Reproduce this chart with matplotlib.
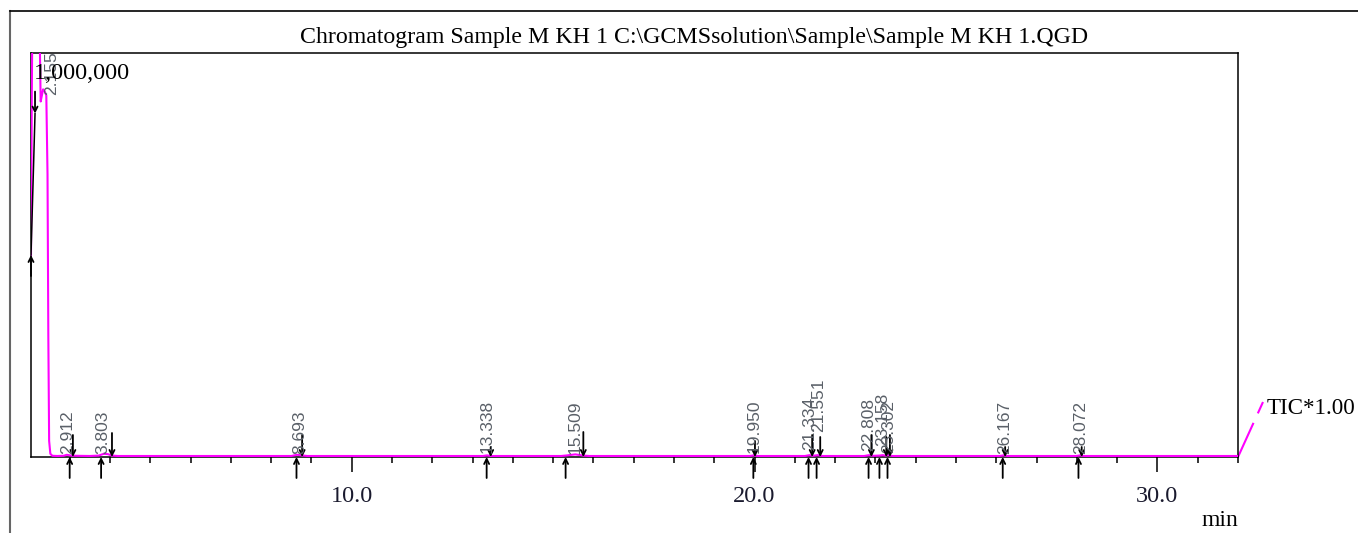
import matplotlib
matplotlib.use("Agg")
import matplotlib.pyplot as plt
from matplotlib.lines import Line2D
from matplotlib.ticker import FixedLocator, MultipleLocator, NullLocator

# TIC trace: retention time (min) and intensity
tic_time = [2.04, 2.06, 2.09, 2.14, 2.19, 2.24, 2.28, 2.31, 2.34, 2.38, 2.42, 2.45, 2.47,
            2.49, 2.52, 2.57, 2.70, 2.85, 2.93, 3.03, 3.15, 3.50, 3.72, 3.85, 3.95, 4.05,
            4.20, 5.50, 7.00, 8.50, 8.65, 8.75, 8.90, 11.0, 13.25, 13.36, 13.45, 15.20,
            15.35, 15.55, 15.75, 15.90, 18.0, 19.88, 19.98, 20.08, 21.25, 21.36, 21.45,
            21.57, 21.68, 22.72, 22.84, 22.95, 23.10, 23.18, 23.25, 23.32, 23.42, 25.0,
            26.08, 26.18, 26.28, 27.98, 28.08, 28.18, 30.0, 32.0]
tic_intensity = [500000, 900000, 1300000, 1500000, 1450000, 1150000, 880000, 895000, 910000,
                 905000, 895000, 700000, 300000, 40000, 8000, 3000, 2500, 3000, 5500, 3500,
                 3000, 2500, 3500, 8000, 7000, 3500, 2500, 2500, 2500, 2500, 5500, 4000, 2500,
                 2500, 2500, 4000, 2500, 2500, 4000, 6500, 3500, 2500, 2500, 2500, 4000, 2500,
                 2500, 4500, 3000, 4500, 2500, 2500, 4500, 3000, 3500, 4500, 3500, 5000, 2500,
                 2500, 2500, 4000, 2500, 2500, 4000, 2500, 2500, 2500]

# detected peaks
peak_labels = ["2.912", "3.803", "8.693", "13.338", "15.509", "19.950", "21.334", "21.551",
               "22.808", "23.158", "23.302", "26.167", "28.072"]
peak_rt = [2.912, 3.803, 8.693, 13.338, 15.509, 19.950, 21.334, 21.551, 22.808, 23.158,
           23.302, 26.167, 28.072]
peak_start = [3.00, 3.78, 8.63, 13.35, 15.31, 19.97, 21.34, 21.54, 22.83, 23.10, 23.30,
              26.16, 28.04]
peak_end = [3.08, 4.05, 8.77, 13.45, 15.75, 20.01, 21.43, 21.63, 22.90, 23.27, 23.36,
            26.22, 28.12]

# first (solvent) peak
first_label = "2.155"
first_start = (2.04, 500000)
first_end = (2.14, 850000)

# style-only lists
label_lift_px = [3, 3, 3, 4, 3, 4, 7, 25, 6, 11, 4, 3, 3]
end_arrow_px = [22, 24, 22, 10, 25, 16, 22, 20, 22, 20, 22, 10, 10]

W, H = 1358, 533
fig = plt.figure(figsize=(W / 100, H / 100), dpi=100)
ax = fig.add_axes([31 / W, (H - 457) / H, (1238 - 31) / W, (457 - 53) / H])

serif = "Liberation Serif"
sans = "Liberation Sans"
magenta = "#ff00ff"
label_grey = "#5a6068"

ax.plot(tic_time, tic_intensity, color=magenta, lw=1.5, zorder=3)
ax.set_xlim(2.04, 32.0)
ax.set_ylim(0, 1000000)

for s in ax.spines.values():
    s.set_linewidth(1.1)
    s.set_color("black")

ax.yaxis.set_major_locator(NullLocator())
ax.xaxis.set_major_locator(FixedLocator([10, 20, 30]))
ax.xaxis.set_minor_locator(MultipleLocator(1))
ax.set_xticklabels(["10.0", "20.0", "30.0"], fontfamily=serif, fontsize=17.5)
ax.tick_params(axis="x", which="major", direction="out", length=10.8, width=1.1, pad=10,
               labelcolor="#1a1a2e")
ax.tick_params(axis="x", which="minor", direction="out", length=4.3, width=1.1)

arrow_kw = dict(arrowstyle="->", color="black", lw=1.3, mutation_scale=9,
                shrinkA=0, shrinkB=0)

# peak start (below baseline, pointing up) and end (above, pointing down)
for i, lab in enumerate(peak_labels):
    ax.annotate("", xy=(peak_start[i], 0), xytext=(0, -21), textcoords="offset pixels",
                arrowprops=arrow_kw, annotation_clip=False, zorder=4)
    ax.annotate("", xy=(peak_end[i], 0), xytext=(0, end_arrow_px[i]),
                textcoords="offset pixels", arrowprops=arrow_kw, annotation_clip=False,
                zorder=4)
    ax.annotate(lab, xy=(peak_rt[i] + 0.03, 0), xytext=(0, label_lift_px[i]),
                textcoords="offset pixels", rotation=90, ha="center", va="bottom",
                fontfamily=sans, fontsize=12.5, color=label_grey, zorder=5)

# solvent peak markers
ax.plot([first_start[0], first_end[0]], [first_start[1], first_end[1]], color="black",
        lw=1.1, zorder=4)
ax.annotate("", xy=first_start, xytext=(0, -21), textcoords="offset pixels",
            arrowprops=arrow_kw, zorder=4)
ax.annotate("", xy=first_end, xytext=(0, 22), textcoords="offset pixels",
            arrowprops=arrow_kw, zorder=4)
ax.annotate(first_label, xy=(2.55, 895000), rotation=90, ha="center", va="bottom",
            fontfamily=sans, fontsize=12.5, color=label_grey, zorder=5,
            annotation_clip=False)

ax.text(0.002, 0.975, "1,000,000", transform=ax.transAxes, ha="left", va="top",
        fontfamily=serif, fontsize=17.5, color="black", zorder=6)

# TIC leader line and label
ax.add_line(Line2D([1.0, (1263 - 31) / (1238 - 31)], [0.0, (457 - 402) / (457 - 53)],
                   transform=ax.transAxes, color=magenta, lw=1.5,
                   linestyle=(0, (18, 5)), clip_on=False))
fig.text(1267 / W, (H - 408) / H, "TIC*1.00", ha="left", va="center",
         fontfamily=serif, fontsize=16.6)

fig.text(694 / W, (H - 37) / H, r"Chromatogram Sample M KH 1 C:\GCMSsolution\Sample\Sample M KH 1.QGD",
         ha="center", va="center", fontfamily=serif, fontsize=17.2)
fig.text(1220 / W, (H - 521) / H, "min", ha="center", va="center",
         fontfamily=serif, fontsize=17)

# outer page frame
fig.add_artist(Line2D([10 / W, 10 / W], [0, (H - 11) / H], color="#666666", lw=1.5))
fig.add_artist(Line2D([10 / W, 1.0], [(H - 11) / H, (H - 11) / H], color="black", lw=1.2))

fig.savefig("out.png", dpi=100)
